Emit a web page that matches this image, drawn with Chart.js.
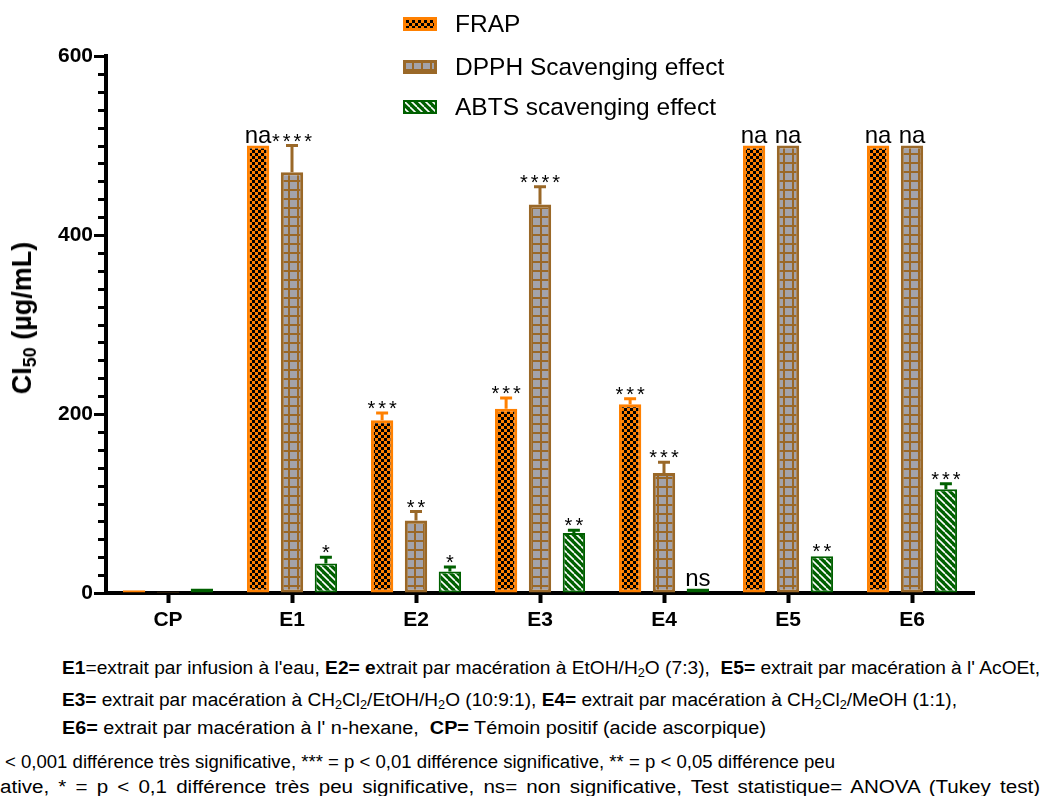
<!DOCTYPE html>
<html>
<head>
<meta charset="utf-8">
<script src="https://cdn.jsdelivr.net/npm/chart.js@4"></script>
<style>
  body { margin: 0; background: #fff; font-family: "Liberation Sans", Arial, sans-serif; }
  #page { position: relative; width: 1046px; height: 796px; overflow: hidden; background: #fff; }
  #chartBox { position: absolute; left: 0; top: 0; width: 1046px; height: 645px; }
  #legend { position: absolute; left: 403px; top: 0; }
  .leg { position: absolute; left: 0; height: 28px; white-space: nowrap; font-size: 24.5px; color: #000; }
  .leg canvas { position: absolute; left: 0; top: 7px; }
  .leg span { position: absolute; left: 52px; top: 0; line-height: 28px; }
  #ytitle { position: absolute; left: 24px; top: 318px; transform: translate(-50%, -50%) rotate(-90deg);
            font-weight: bold; font-size: 27px; white-space: nowrap; }
  #ytitle sub { font-size: 18px; vertical-align: -5px; }
  .note { position: absolute; white-space: nowrap; font-size: 18px; line-height: 20px; color: #000; transform-origin: 0 0; }
  .note sub { font-size: 12px; vertical-align: -3px; }
</style>
</head>
<body>
<div id="page">
  <div id="chartBox"><canvas id="bieuDo" width="1046" height="645"></canvas></div>
  <div id="legend"></div>
  <div id="ytitle">CI<sub>50</sub> (µg/mL)</div>

  <div class="note" data-w="978" style="left:62px; top:658px"><b>E1</b>=extrait par infusion à l'eau, <b>E2= e</b>xtrait par macération à EtOH/H<sub>2</sub>O (7:3),&nbsp; <b>E5=</b> extrait par macération à l' AcOEt,</div>
  <div class="note" data-w="895" style="left:62px; top:690px"><b>E3=</b> extrait par macération à CH<sub>2</sub>Cl<sub>2</sub>/EtOH/H<sub>2</sub>O (10:9:1), <b>E4=</b> extrait par macération à CH<sub>2</sub>Cl<sub>2</sub>/MeOH (1:1),</div>
  <div class="note" data-w="704" style="left:62px; top:718px"><b>E6=</b> extrait par macération à l' n-hexane,&nbsp; <b>CP=</b> Témoin positif (acide ascorpique)</div>
  <div class="note" data-w="830" style="left:5px; top:752px">&lt; 0,001 différence très significative, *** = p &lt; 0,01 différence significative, ** = p &lt; 0,05 différence peu</div>
  <div class="note" data-w="1040" style="left:0px; top:777px; word-spacing:3px">ative, * = p &lt; 0,1 différence très peu significative, ns= non significative, Test statistique= ANOVA (Tukey test)</div>
</div>

<script>
// du lieu doc tu hinh
const categories = ['CP', 'E1', 'E2', 'E3', 'E4', 'E5', 'E6'];
const seriesNames = ['FRAP', 'DPPH Scavenging effect', 'ABTS scavenging effect'];

const frap    = [3, 500, 193, 206, 211, 500, 500];
const frapErr = [0, 0, 8, 12, 6, 0, 0];
const frapSig = ['', 'na', '***', '***', '***', 'na', 'na'];

const dpph    = [1.5, 470, 81, 434, 134, 500, 500];
const dpphErr = [0, 30, 10, 20, 12, 0, 0];
const dpphSig = ['', '****', '**', '****', '***', 'na', 'na'];

const abts    = [5, 33, 24, 67, 5, 41, 116];
const abtsErr = [0, 7, 5, 3, 0, 0, 6];
const abtsSig = ['', '*', '*', '**', 'ns', '**', '***'];

const yMin = 0;
const yMax = 600;
const yStep = 200;
const yMinorStep = 20;

const cam = '#FF8000';
const nau = '#9A6828';
const xanh = '#006000';
const xam = '#A3A3AB';

const canvas = document.getElementById('bieuDo');
const ctx = canvas.getContext('2d');

function taoHoaVan(loai) {
    const c = document.createElement('canvas');
    const g = c.getContext('2d');
    if (loai === 'caro') {
        c.width = 6; c.height = 6;
        g.fillStyle = cam; g.fillRect(0, 0, 6, 6);
        g.fillStyle = '#000';
        g.fillRect(0, 0, 3, 3);
        g.fillRect(3, 3, 3, 3);
    } else if (loai === 'luoi') {
        c.width = 9; c.height = 9;
        g.fillStyle = nau; g.fillRect(0, 0, 9, 9);
        g.fillStyle = xam; g.fillRect(2, 2, 7, 7);
    } else {
        c.width = 7; c.height = 7;
        g.fillStyle = xanh; g.fillRect(0, 0, 7, 7);
        g.strokeStyle = '#fff';
        g.lineWidth = 1.6;
        [-7, 0, 7].forEach(x => {
            g.beginPath();
            g.moveTo(x, 0);
            g.lineTo(x + 7, 7);
            g.stroke();
        });
    }
    return ctx.createPattern(c, 'repeat');
}

const hoaVan = [taoHoaVan('caro'), taoHoaVan('luoi'), taoHoaVan('soc')];
const mauVien = [cam, nau, xanh];
const vienRong = [3, 3, 2];
const giaTri = [frap, dpph, abts];
const saiSo = [frapErr, dpphErr, abtsErr];
const kyHieu = [frapSig, dpphSig, abtsSig];

// error bar + dau sao + vach phu
const veSaiSo = {
    id: 'veSaiSo',
    afterDatasetsDraw(chart) {
        const c = chart.ctx;
        const y = chart.scales.y;
        chart.data.datasets.forEach((ds, i) => {
            const meta = chart.getDatasetMeta(i);
            meta.data.forEach((bar, j) => {
                const v = giaTri[i][j];
                const e = saiSo[i][j];
                const top = y.getPixelForValue(v + e);
                c.save();
                if (e > 0) {
                    c.strokeStyle = mauVien[i];
                    c.lineWidth = 3;
                    c.beginPath();
                    c.moveTo(bar.x, bar.y);
                    c.lineTo(bar.x, top);
                    c.moveTo(bar.x - 6, top);
                    c.lineTo(bar.x + 6, top);
                    c.stroke();
                }
                const nhan = kyHieu[i][j];
                if (nhan) {
                    c.fillStyle = '#000';
                    c.textAlign = 'center';
                    c.textBaseline = 'alphabetic';
                    if (nhan.startsWith('*')) {
                        c.font = '20px "Liberation Sans", Arial, sans-serif';
                        c.letterSpacing = '3px';
                        c.fillText(nhan, bar.x + 1.5, top + 2);
                    } else {
                        c.font = '24px "Liberation Sans", Arial, sans-serif';
                        c.fillText(nhan, bar.x, top - 3);
                    }
                }
                c.restore();
            });
        });

        // vach chia phu tren truc y
        const x0 = chart.chartArea.left;
        c.save();
        c.strokeStyle = '#000';
        c.lineWidth = 3;
        for (let v = yMin; v <= yMax; v += yMinorStep) {
            if (v % yStep === 0) continue;
            const py = Math.round(y.getPixelForValue(v)) + 0.5;
            c.beginPath();
            c.moveTo(x0 - 8, py);
            c.lineTo(x0, py);
            c.stroke();
        }
        c.restore();
    }
};

const datasets = seriesNames.map((ten, i) => ({
    label: ten,
    data: giaTri[i],
    backgroundColor: hoaVan[i],
    borderColor: mauVien[i],
    borderWidth: vienRong[i],
    borderSkipped: false,
    categoryPercentage: 0.82,
    barPercentage: 0.66
}));

const fontTruc = { family: '"Liberation Sans", Arial, sans-serif', size: 21, weight: 'bold' };

const myChart = new Chart(ctx, {
    type: 'bar',
    data: { labels: categories, datasets: datasets },
    options: {
        responsive: false,
        animation: false,
        layout: { padding: { left: 0, top: 56, right: 72, bottom: 5 } },
        plugins: { legend: { display: false }, tooltip: { enabled: false } },
        scales: {
            x: {
                offset: true,
                grid: { display: true, drawOnChartArea: false, drawTicks: true, tickLength: 10,
                        tickWidth: 4, tickColor: '#000', offset: false },
                border: { display: true, color: '#000', width: 4 },
                ticks: { color: '#000', font: fontTruc, padding: 5 },
                afterFit: s => { s.height = 47; }
            },
            y: {
                min: yMin,
                max: yMax,
                grid: { display: true, drawOnChartArea: false, drawTicks: true, tickLength: 12,
                        tickWidth: 3, tickColor: '#000' },
                border: { display: true, color: '#000', width: 4 },
                ticks: { stepSize: yStep, color: '#000', font: fontTruc, padding: 1 },
                afterFit: s => { s.width = 106; }
            }
        }
    },
    plugins: [veSaiSo]
});

// chu giai doc
const legend = document.getElementById('legend');
const dongY = [10, 53, 93];
seriesNames.forEach((ten, i) => {
    const d = document.createElement('div');
    d.className = 'leg';
    d.style.top = dongY[i] + 'px';
    const o = document.createElement('canvas');
    o.width = 34; o.height = 14;
    const g = o.getContext('2d');
    g.fillStyle = hoaVan[i];
    g.fillRect(0, 0, 34, 14);
    g.strokeStyle = mauVien[i];
    g.lineWidth = vienRong[i];
    g.strokeRect(vienRong[i] / 2, vienRong[i] / 2, 34 - vienRong[i], 14 - vienRong[i]);
    d.appendChild(o);
    const s = document.createElement('span');
    s.textContent = ten;
    d.appendChild(s);
    legend.appendChild(d);
});

// ep chieu ngang cac dong chu thich cho khop anh
document.querySelectorAll('.note').forEach(n => {
    const w = n.getBoundingClientRect().width;
    n.style.transform = 'scaleX(' + (Number(n.dataset.w) / w) + ')';
});
</script>
</body>
</html>
